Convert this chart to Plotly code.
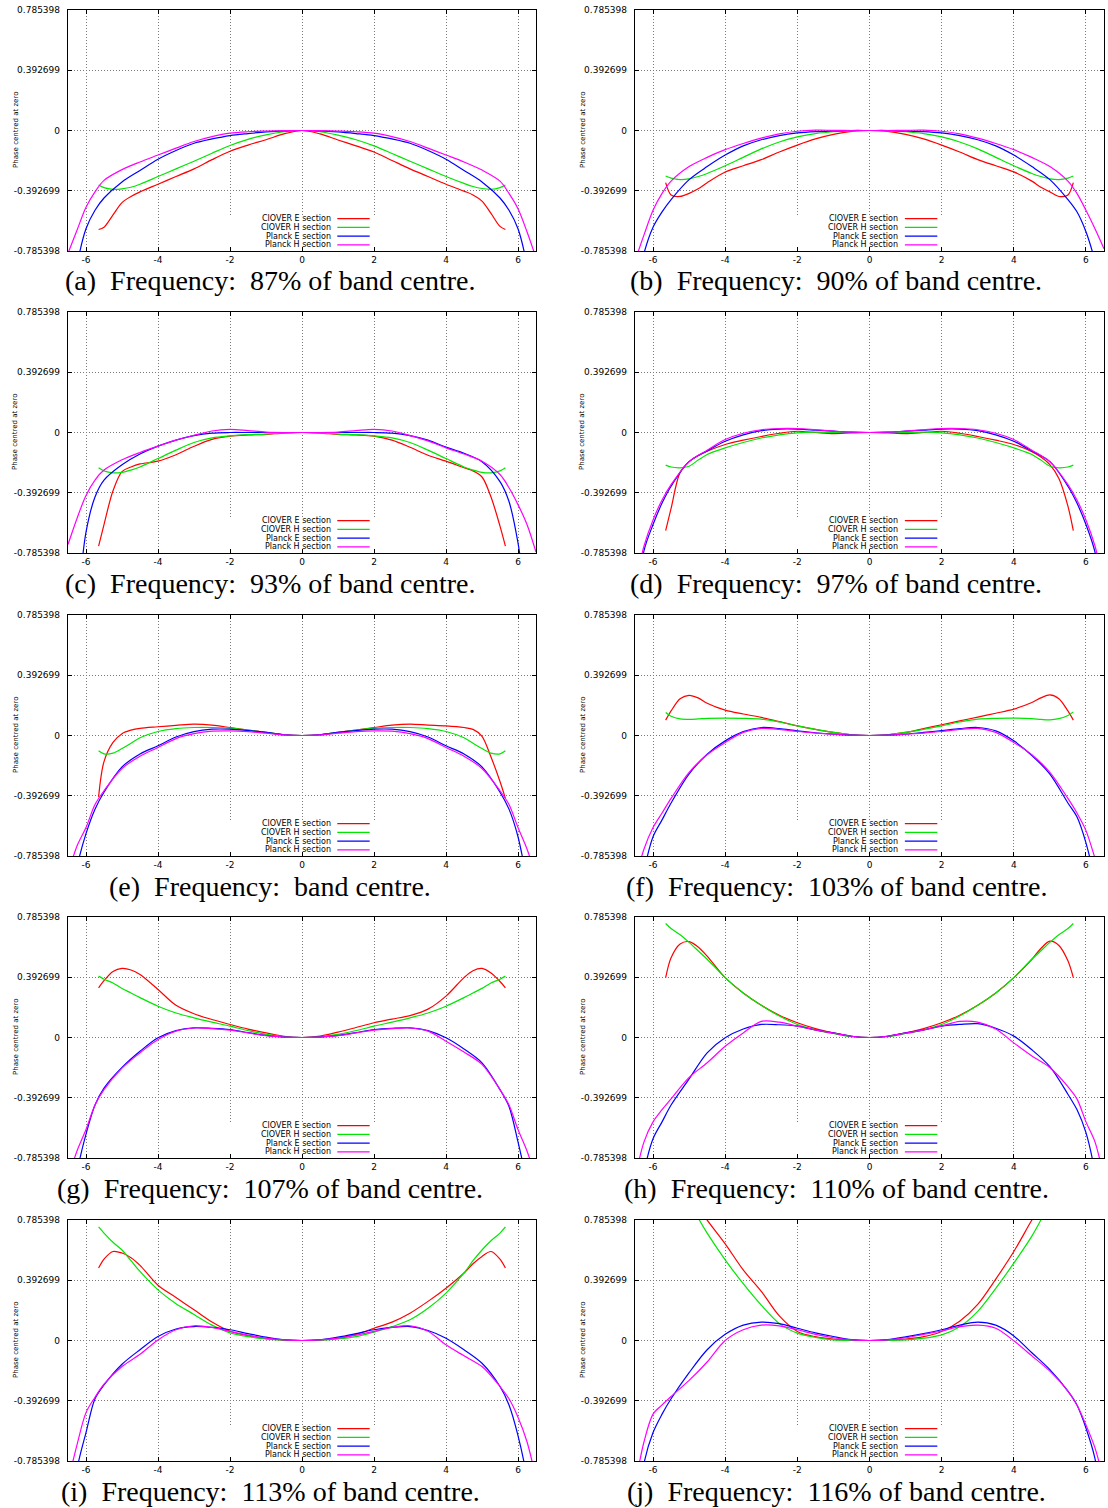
import plotly.graph_objects as go

# ---------------- data ----------------
CLOVER_X = [-5.65, -5.5, -5.25, -5.0, -4.75, -4.5, -4.0, -3.5, -3.0, -2.5, -2.0, -1.5, -1.0, -0.5, 0.0,
            0.5, 1.0, 1.5, 2.0, 2.5, 3.0, 3.5, 4.0, 4.5, 4.75, 5.0, 5.25, 5.5, 5.65]
PLANCK_X = [-6.5, -6.25, -6.0, -5.75, -5.5, -5.0, -4.5, -4.0, -3.5, -3.0, -2.5, -2.0, -1.5, -1.0, -0.5, 0.0,
            0.5, 1.0, 1.5, 2.0, 2.5, 3.0, 3.5, 4.0, 4.5, 5.0, 5.5, 5.75, 6.0, 6.25, 6.5]

a_clover_e = [-0.645, -0.63, -0.55, -0.47, -0.43, -0.40, -0.35, -0.30, -0.25, -0.19, -0.135, -0.095, -0.06, -0.022, 0.0,
              -0.022, -0.062, -0.10, -0.14, -0.195, -0.25, -0.30, -0.35, -0.395, -0.42, -0.46, -0.54, -0.625, -0.645]
a_clover_h = [-0.355, -0.372, -0.383, -0.38, -0.37, -0.35, -0.30, -0.25, -0.20, -0.148, -0.098, -0.058, -0.028, -0.008, 0.0,
              -0.008, -0.03, -0.06, -0.10, -0.15, -0.20, -0.25, -0.30, -0.345, -0.365, -0.378, -0.383, -0.372, -0.355]
a_planck_e = [-1.3, -0.88, -0.64, -0.52, -0.44, -0.335, -0.26, -0.187, -0.13, -0.083, -0.055, -0.033, -0.02, -0.009, -0.002, 0.0,
              -0.002, -0.009, -0.02, -0.033, -0.055, -0.083, -0.13, -0.187, -0.26, -0.335, -0.44, -0.52, -0.64, -0.88, -1.3]
a_planck_h = [-0.80, -0.65, -0.50, -0.40, -0.325, -0.255, -0.205, -0.16, -0.115, -0.072, -0.04, -0.017, -0.008, -0.004, -0.001, 0.0,
              -0.001, -0.004, -0.008, -0.017, -0.04, -0.072, -0.115, -0.16, -0.205, -0.258, -0.33, -0.41, -0.51, -0.66, -0.83]

b_clover_e = [-0.34, -0.42, -0.43, -0.41, -0.38, -0.34, -0.27, -0.23, -0.19, -0.14, -0.095, -0.055, -0.025, -0.006, 0.0,
              -0.006, -0.025, -0.055, -0.095, -0.14, -0.19, -0.23, -0.27, -0.33, -0.37, -0.40, -0.43, -0.42, -0.34]
b_clover_h = [-0.297, -0.31, -0.32, -0.315, -0.30, -0.28, -0.23, -0.175, -0.12, -0.075, -0.042, -0.02, -0.008, -0.002, 0.0,
              -0.002, -0.008, -0.02, -0.042, -0.075, -0.12, -0.175, -0.23, -0.28, -0.30, -0.315, -0.32, -0.31, -0.297]
b_planck_e = [-1.1, -0.80, -0.63, -0.53, -0.45, -0.32, -0.235, -0.16, -0.10, -0.06, -0.033, -0.016, -0.007, -0.003, 0.0, 0.0,
              0.0, -0.003, -0.007, -0.016, -0.033, -0.06, -0.10, -0.16, -0.235, -0.32, -0.45, -0.53, -0.66, -0.85, -1.1]
b_planck_h = [-0.85, -0.68, -0.52, -0.41, -0.33, -0.235, -0.175, -0.125, -0.085, -0.05, -0.022, -0.005, 0.002, 0.001, 0.0, 0.0,
              0.0, 0.001, 0.002, -0.005, -0.022, -0.05, -0.085, -0.125, -0.175, -0.235, -0.33, -0.41, -0.52, -0.64, -0.77]

c_clover_e = [-0.74, -0.60, -0.38, -0.255, -0.225, -0.205, -0.187, -0.145, -0.09, -0.045, -0.024, -0.016, -0.012, -0.004, 0.0,
              -0.004, -0.012, -0.016, -0.024, -0.05, -0.096, -0.148, -0.187, -0.23, -0.25, -0.29, -0.42, -0.61, -0.74]
c_clover_h = [-0.23, -0.25, -0.263, -0.26, -0.245, -0.225, -0.17, -0.115, -0.065, -0.035, -0.022, -0.014, -0.01, -0.003, 0.0,
              -0.003, -0.01, -0.014, -0.022, -0.035, -0.065, -0.115, -0.17, -0.225, -0.245, -0.26, -0.263, -0.25, -0.23]
c_planck_e = [-1.6, -1.15, -0.65, -0.42, -0.31, -0.21, -0.14, -0.089, -0.05, -0.02, -0.004, 0.0, 0.0, 0.0, 0.0, 0.0,
              0.0, 0.0, 0.0, 0.0, -0.004, -0.02, -0.05, -0.095, -0.135, -0.19, -0.32, -0.45, -0.72, -1.15, -1.6]
c_planck_h = [-0.73, -0.56, -0.41, -0.31, -0.245, -0.178, -0.13, -0.089, -0.05, -0.018, 0.01, 0.02, 0.012, 0.003, 0.0, 0.0,
              0.0, 0.003, 0.012, 0.02, 0.01, -0.02, -0.055, -0.10, -0.14, -0.187, -0.274, -0.36, -0.47, -0.60, -0.78]

d_clover_e = [-0.64, -0.495, -0.26, -0.19, -0.15, -0.122, -0.078, -0.05, -0.026, -0.005, 0.008, 0.0, -0.007, -0.003, 0.0,
              -0.003, -0.007, 0.0, 0.008, -0.005, -0.026, -0.05, -0.078, -0.125, -0.16, -0.21, -0.30, -0.48, -0.64]
d_clover_h = [-0.213, -0.225, -0.23, -0.22, -0.18, -0.143, -0.10, -0.065, -0.036, -0.015, -0.002, 0.002, 0.001, 0.0, 0.0,
              0.0, 0.001, 0.002, -0.002, -0.015, -0.036, -0.065, -0.10, -0.143, -0.18, -0.22, -0.23, -0.225, -0.213]
d_planck_e = [-1.2, -0.77, -0.60, -0.46, -0.35, -0.19, -0.12, -0.057, -0.015, 0.012, 0.022, 0.022, 0.016, 0.009, 0.002, 0.0,
              0.002, 0.009, 0.016, 0.022, 0.022, 0.012, -0.015, -0.057, -0.12, -0.19, -0.35, -0.46, -0.60, -0.78, -1.2]
d_planck_h = [-1.0, -0.74, -0.57, -0.44, -0.34, -0.19, -0.115, -0.046, -0.005, 0.018, 0.026, 0.026, 0.018, 0.009, 0.002, 0.0,
              0.002, 0.009, 0.018, 0.026, 0.026, 0.018, -0.005, -0.046, -0.115, -0.19, -0.34, -0.44, -0.57, -0.74, -1.0]

e_clover_e = [-0.40, -0.17, -0.045, 0.012, 0.035, 0.047, 0.057, 0.066, 0.074, 0.068, 0.052, 0.036, 0.02, 0.005, 0.0,
              0.005, 0.02, 0.036, 0.052, 0.068, 0.074, 0.068, 0.063, 0.052, 0.04, -0.005, -0.14, -0.30, -0.41]
e_clover_h = [-0.10, -0.12, -0.115, -0.085, -0.05, -0.015, 0.026, 0.045, 0.052, 0.052, 0.048, 0.035, 0.02, 0.005, 0.0,
              0.005, 0.02, 0.035, 0.048, 0.052, 0.052, 0.045, 0.026, -0.015, -0.05, -0.085, -0.115, -0.12, -0.10]
e_planck_e = [-1.3, -0.86, -0.64, -0.48, -0.37, -0.205, -0.12, -0.067, -0.01, 0.025, 0.041, 0.041, 0.032, 0.02, 0.005, 0.0,
              0.005, 0.02, 0.032, 0.041, 0.041, 0.025, -0.01, -0.067, -0.12, -0.205, -0.37, -0.48, -0.66, -0.95, -1.3]
e_planck_h = [-0.90, -0.72, -0.60, -0.45, -0.36, -0.215, -0.135, -0.078, -0.02, 0.012, 0.028, 0.03, 0.025, 0.015, 0.004, 0.0,
              0.004, 0.015, 0.025, 0.03, 0.028, 0.012, -0.02, -0.078, -0.135, -0.215, -0.36, -0.45, -0.60, -0.74, -0.92]

f_clover_e = [0.10, 0.16, 0.24, 0.262, 0.245, 0.21, 0.165, 0.14, 0.118, 0.09, 0.063, 0.04, 0.02, 0.005, 0.0,
              0.005, 0.02, 0.045, 0.07, 0.095, 0.12, 0.145, 0.172, 0.215, 0.245, 0.265, 0.24, 0.16, 0.10]
f_clover_h = [0.15, 0.125, 0.108, 0.105, 0.108, 0.112, 0.113, 0.112, 0.107, 0.088, 0.063, 0.04, 0.02, 0.005, 0.0,
              0.005, 0.02, 0.04, 0.063, 0.088, 0.107, 0.112, 0.113, 0.11, 0.105, 0.102, 0.11, 0.13, 0.154]
f_planck_e = [-1.2, -0.88, -0.66, -0.55, -0.44, -0.25, -0.122, -0.035, 0.025, 0.052, 0.045, 0.03, 0.018, 0.009, 0.002, 0.0,
              0.002, 0.009, 0.02, 0.032, 0.045, 0.052, 0.03, -0.035, -0.13, -0.252, -0.44, -0.53, -0.70, -0.95, -1.3]
f_planck_h = [-0.95, -0.74, -0.60, -0.505, -0.41, -0.24, -0.125, -0.046, 0.02, 0.046, 0.04, 0.026, 0.016, 0.008, 0.002, 0.0,
              0.002, 0.008, 0.016, 0.026, 0.04, 0.046, 0.02, -0.046, -0.125, -0.24, -0.41, -0.505, -0.62, -0.80, -1.0]

g_clover_e = [0.324, 0.37, 0.43, 0.45, 0.44, 0.41, 0.313, 0.21, 0.155, 0.117, 0.085, 0.055, 0.03, 0.008, 0.0,
              0.009, 0.035, 0.065, 0.096, 0.12, 0.143, 0.185, 0.27, 0.39, 0.435, 0.45, 0.42, 0.365, 0.324]
g_clover_h = [0.40, 0.38, 0.355, 0.32, 0.29, 0.26, 0.204, 0.16, 0.128, 0.1, 0.074, 0.045, 0.02, 0.005, 0.0,
              0.005, 0.02, 0.045, 0.074, 0.1, 0.128, 0.16, 0.204, 0.26, 0.29, 0.32, 0.355, 0.38, 0.40]
g_planck_e = [-1.3, -0.88, -0.63, -0.44, -0.33, -0.195, -0.09, -0.002, 0.045, 0.063, 0.06, 0.052, 0.032, 0.013, 0.003, 0.0,
              0.003, 0.013, 0.032, 0.052, 0.06, 0.063, 0.045, -0.002, -0.075, -0.165, -0.34, -0.45, -0.68, -0.95, -1.3]
g_planck_h = [-0.92, -0.74, -0.60, -0.44, -0.34, -0.2, -0.1, -0.013, 0.042, 0.062, 0.058, 0.048, 0.03, 0.012, 0.003, 0.0,
              0.003, 0.012, 0.03, 0.048, 0.058, 0.062, 0.042, -0.024, -0.095, -0.175, -0.34, -0.44, -0.60, -0.74, -0.92]

h_clover_e = [0.39, 0.52, 0.61, 0.625, 0.59, 0.53, 0.39, 0.29, 0.21, 0.145, 0.096, 0.058, 0.03, 0.008, 0.0,
              0.008, 0.03, 0.058, 0.096, 0.145, 0.21, 0.29, 0.39, 0.51, 0.58, 0.628, 0.60, 0.50, 0.39]
h_clover_h = [0.743, 0.71, 0.67, 0.62, 0.565, 0.51, 0.39, 0.29, 0.21, 0.14, 0.085, 0.05, 0.026, 0.006, 0.0,
              0.006, 0.026, 0.05, 0.085, 0.14, 0.21, 0.29, 0.39, 0.51, 0.565, 0.62, 0.67, 0.71, 0.743]
h_planck_e = [-1.3, -0.88, -0.66, -0.55, -0.44, -0.27, -0.1, -0.002, 0.055, 0.085, 0.083, 0.074, 0.05, 0.03, 0.008, 0.0,
              0.008, 0.03, 0.05, 0.074, 0.085, 0.09, 0.06, 0.009, -0.08, -0.19, -0.37, -0.47, -0.62, -0.88, -1.3]
h_planck_h = [-0.92, -0.68, -0.55, -0.47, -0.40, -0.26, -0.165, -0.057, 0.03, 0.105, 0.1, 0.074, 0.05, 0.028, 0.008, 0.0,
              0.008, 0.028, 0.05, 0.075, 0.105, 0.1, 0.055, -0.035, -0.12, -0.195, -0.32, -0.40, -0.55, -0.68, -0.92]

i_clover_e = [0.472, 0.53, 0.58, 0.57, 0.54, 0.49, 0.36, 0.28, 0.2, 0.12, 0.06, 0.03, 0.012, 0.003, 0.0,
              0.003, 0.015, 0.04, 0.08, 0.12, 0.178, 0.255, 0.341, 0.44, 0.50, 0.548, 0.58, 0.53, 0.472]
i_clover_h = [0.74, 0.70, 0.64, 0.59, 0.52, 0.45, 0.33, 0.24, 0.17, 0.1, 0.05, 0.025, 0.01, 0.002, 0.0,
              0.002, 0.01, 0.025, 0.055, 0.09, 0.135, 0.21, 0.309, 0.44, 0.52, 0.59, 0.65, 0.70, 0.74]
i_planck_e = [-1.4, -0.84, -0.60, -0.38, -0.29, -0.155, -0.06, 0.026, 0.075, 0.091, 0.085, 0.07, 0.045, 0.022, 0.005, 0.0,
              0.005, 0.022, 0.045, 0.07, 0.085, 0.091, 0.065, 0.015, -0.06, -0.148, -0.30, -0.42, -0.62, -0.9, -1.4]
i_planck_h = [-0.92, -0.68, -0.47, -0.37, -0.285, -0.17, -0.09, 0.004, 0.07, 0.096, 0.085, 0.059, 0.035, 0.015, 0.004, 0.0,
              0.004, 0.015, 0.035, 0.06, 0.085, 0.096, 0.06, -0.028, -0.1, -0.17, -0.3, -0.38, -0.5, -0.66, -0.9]

j_clover_e = [1.35, 1.25, 1.1, 0.96, 0.87, 0.785, 0.63, 0.46, 0.32, 0.16, 0.059, 0.025, 0.009, 0.002, 0.0,
              0.002, 0.009, 0.025, 0.059, 0.125, 0.235, 0.4, 0.58, 0.785, 0.88, 0.98, 1.1, 1.25, 1.35]
j_clover_h = [1.4, 1.25, 1.08, 0.92, 0.8, 0.7, 0.526, 0.37, 0.23, 0.11, 0.048, 0.02, 0.004, 0.001, 0.0,
              0.001, 0.004, 0.015, 0.037, 0.09, 0.19, 0.34, 0.504, 0.68, 0.785, 0.9, 1.03, 1.2, 1.3]
j_planck_e = [-1.3, -0.80, -0.60, -0.48, -0.38, -0.21, -0.06, 0.04, 0.1, 0.12, 0.11, 0.08, 0.05, 0.026, 0.006, 0.0,
              0.006, 0.024, 0.045, 0.07, 0.1, 0.12, 0.1, 0.03, -0.08, -0.19, -0.33, -0.42, -0.57, -0.77, -1.2]
j_planck_h = [-0.95, -0.66, -0.48, -0.42, -0.365, -0.26, -0.14, 0.0, 0.07, 0.1, 0.095, 0.07, 0.04, 0.018, 0.004, 0.0,
              0.004, 0.018, 0.04, 0.062, 0.09, 0.1, 0.08, -0.002, -0.1, -0.2, -0.33, -0.42, -0.55, -0.70, -0.92]

CAPTIONS = [
    "(a)\u00a0 Frequency:\u00a0 87% of band centre.",
    "(b)\u00a0 Frequency:\u00a0 90% of band centre.",
    "(c)\u00a0 Frequency:\u00a0 93% of band centre.",
    "(d)\u00a0 Frequency:\u00a0 97% of band centre.",
    "(e)\u00a0 Frequency:\u00a0 band centre.",
    "(f)\u00a0 Frequency:\u00a0 103% of band centre.",
    "(g)\u00a0 Frequency:\u00a0 107% of band centre.",
    "(h)\u00a0 Frequency:\u00a0 110% of band centre.",
    "(i)\u00a0 Frequency:\u00a0 113% of band centre.",
    "(j)\u00a0 Frequency:\u00a0 116% of band centre.",
]
SERIES_NAMES = ["ClOVER E section", "ClOVER H section", "Planck E section", "Planck H section"]
YTICK_VALS = [-0.785398, -0.392699, 0.0, 0.392699, 0.785398]
YTICK_TEXT = ["-0.785398", "-0.392699", "0", "0.392699", "0.785398"]
XTICK_VALS = [-6, -4, -2, 0, 2, 4, 6]
XTICK_TEXT = ["-6", "-4", "-2", "0", "2", "4", "6"]
Y_TITLE = "Phase centred at zero"

PANELS = [
    (a_clover_e, a_clover_h, a_planck_e, a_planck_h),
    (b_clover_e, b_clover_h, b_planck_e, b_planck_h),
    (c_clover_e, c_clover_h, c_planck_e, c_planck_h),
    (d_clover_e, d_clover_h, d_planck_e, d_planck_h),
    (e_clover_e, e_clover_h, e_planck_e, e_planck_h),
    (f_clover_e, f_clover_h, f_planck_e, f_planck_h),
    (g_clover_e, g_clover_h, g_planck_e, g_planck_h),
    (h_clover_e, h_clover_h, h_planck_e, h_planck_h),
    (i_clover_e, i_clover_h, i_planck_e, i_planck_h),
    (j_clover_e, j_clover_h, j_planck_e, j_planck_h),
]

# ---------------- styling / layout ----------------
W, H = 1108, 1508
COLORS = ["#ff0000", "#00e600", "#0000ff", "#ff00ff"]
ROW_TOP = [10, 312, 615, 917, 1220]
ROW_BOT = [251, 553, 856, 1158, 1461]
COL_X = [(68, 536), (635, 1104)]
COL_OFFSET = [0, 567]
SANS = "DejaVu Sans, Liberation Sans, Arial, sans-serif"
TICK_FONT = dict(family=SANS, size=9, color="#000000")
LEG_FONT = dict(family=SANS, size=8, color="#000000")
CAP_FONT = dict(family="Liberation Serif, Times New Roman, serif", size=28, color="#000000")
YR = 0.7853982
LEG_Y = [-0.575, -0.632, -0.689, -0.746]


def px_x(p):
    return p / W


def px_y(p):
    return 1 - p / H


fig = go.Figure()
layout = {}
annotations = []
shapes = []

for idx, series in enumerate(PANELS):
    row, col = divmod(idx, 2)
    k = idx + 1
    xa = "x" if k == 1 else f"x{k}"
    ya = "y" if k == 1 else f"y{k}"
    xname = "xaxis" if k == 1 else f"xaxis{k}"
    yname = "yaxis" if k == 1 else f"yaxis{k}"

    for s, (ys, name, color) in enumerate(zip(series, SERIES_NAMES, COLORS)):
        xs = CLOVER_X if s < 2 else PLANCK_X
        fig.add_trace(go.Scatter(
            x=xs, y=ys, mode="lines", name=name, showlegend=False,
            line=dict(color=color, width=1.2, shape="spline", smoothing=0.9),
            xaxis=xa, yaxis=ya, hoverinfo="skip",
        ))

    x0, x1 = COL_X[col]
    common = dict(
        showline=True, linecolor="#000000", linewidth=1.3, mirror="ticks",
        ticks="inside", ticklen=4, tickwidth=1, tickcolor="#000000",
        showgrid=True, gridcolor="#7a7a7a", griddash="1px,2px", gridwidth=1,
        zeroline=False, tickfont=TICK_FONT, fixedrange=True, automargin=False,
    )
    layout[xname] = dict(
        domain=[px_x(x0), px_x(x1)], range=[-6.5, 6.5], anchor=ya,
        tickmode="array", tickvals=XTICK_VALS, ticktext=XTICK_TEXT, **common,
    )
    layout[yname] = dict(
        domain=[px_y(ROW_BOT[row]), px_y(ROW_TOP[row])], range=[-YR, YR], anchor=xa,
        tickmode="array", tickvals=YTICK_VALS, ticktext=YTICK_TEXT,
        ticklabelstandoff=5, **common,
    )

    # opaque key box (hides grid like gnuplot) + key entries
    shapes.append(dict(type="rect", xref=xa, yref=ya, x0=-2.15, x1=2.12, y0=-0.55, y1=-0.78,
                       fillcolor="#ffffff", line=dict(width=0), layer="between"))
    for s, (name, color) in enumerate(zip(SERIES_NAMES, COLORS)):
        annotations.append(dict(xref=xa, yref=ya, x=0.83, y=LEG_Y[s], text=name, showarrow=False,
                                xanchor="right", yanchor="middle", font=LEG_FONT, borderpad=0))
        shapes.append(dict(type="line", xref=xa, yref=ya, x0=0.98, x1=1.88, y0=LEG_Y[s], y1=LEG_Y[s],
                           line=dict(color=color, width=1.2), layer="above"))

    # y-axis title
    annotations.append(dict(xref="paper", yref="paper",
                            x=px_x(15.5 + COL_OFFSET[col]), y=px_y((ROW_TOP[row] + ROW_BOT[row]) / 2),
                            text=Y_TITLE, textangle=-90, showarrow=False,
                            xanchor="center", yanchor="middle",
                            font=dict(family=SANS, size=7, color="#000000")))
    # caption
    annotations.append(dict(xref="paper", yref="paper",
                            x=px_x(270 + 566 * col), y=px_y(ROW_BOT[row] + 30),
                            text=CAPTIONS[idx], showarrow=False,
                            xanchor="center", yanchor="middle", font=CAP_FONT, borderpad=0))

fig.update_layout(
    width=W, height=H, margin=dict(l=0, r=0, t=0, b=0, autoexpand=False),
    paper_bgcolor="#ffffff", plot_bgcolor="#ffffff",
    showlegend=False, annotations=annotations, shapes=shapes, **layout,
)

fig.write_html("out.html")
